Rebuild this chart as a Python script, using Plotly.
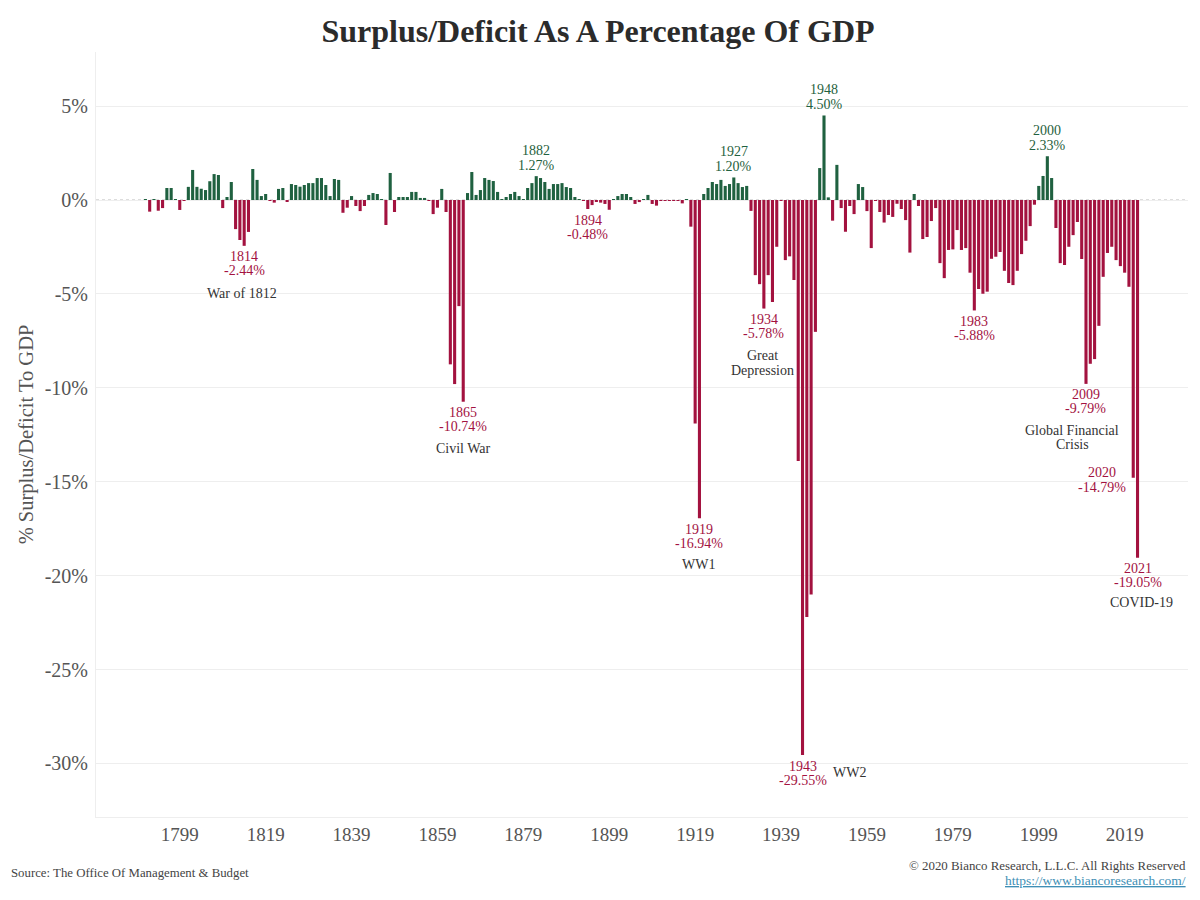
import plotly.graph_objects as go

FIRST_AXIS_YEAR = 1791
surplus_pct = [
 0.05,-0.62,0.05,-0.57,-0.43,0.64,0.64,0.04,-0.53,-0.02,0.70,1.60,0.70,0.60,0.53,1.00,1.38,1.33,-0.43,0.16,
 0.96,-1.55,-2.13,-2.44,-1.70,1.65,1.07,0.21,0.32,-0.05,-0.14,0.59,0.64,-0.09,0.85,0.80,0.71,0.80,0.90,0.90,
 1.17,1.17,0.80,0.21,1.12,1.07,-0.68,-0.41,0.21,-0.32,-0.59,-0.32,0.27,0.37,0.32,0.04,-1.33,1.44,-0.64,0.16,
 0.16,0.16,0.43,0.43,0.11,0.11,-0.04,-0.75,-0.41,0.59,-0.64,-8.75,-9.80,-5.65,-10.74,0.37,1.49,0.27,0.53,1.17,
 1.07,1.01,0.43,0.04,0.16,0.32,0.43,0.21,0.05,0.64,0.90,1.27,1.17,0.96,0.59,0.85,0.85,0.90,0.69,0.64,
 0.16,0.05,-0.04,-0.48,-0.27,-0.09,-0.14,-0.21,-0.52,0.02,0.21,0.32,0.32,0.16,-0.21,-0.11,0.05,0.27,-0.21,-0.30,
 -0.03,-0.03,-0.03,-0.03,-0.03,-0.18,0.05,-1.42,-11.90,-16.94,0.32,0.64,0.96,0.85,1.07,0.75,0.85,1.20,0.90,0.69,
 0.75,-0.58,-4.00,-4.48,-5.78,-4.00,-5.43,-2.49,-0.05,-3.20,-3.00,-4.26,-13.90,-29.55,-22.20,-21.00,-7.02,1.70,4.50,0.14,
 -1.10,1.87,-0.43,-1.69,-0.32,-0.75,0.85,0.69,-0.59,-2.56,-0.03,-0.64,-1.20,-0.80,-0.90,-0.20,-0.48,-1.07,-2.80,0.32,
 -0.32,-2.08,-1.97,-1.12,-0.43,-3.36,-4.16,-2.66,-2.63,-1.60,-2.66,-2.56,-3.87,-5.88,-4.74,-4.99,-4.88,-3.13,-3.02,-2.77,
 -3.77,-4.42,-4.53,-3.77,-2.88,-2.17,-1.39,-0.25,0.75,1.28,2.33,1.17,-1.49,-3.36,-3.46,-2.49,-1.87,-1.17,-3.14,-9.79,
 -8.72,-8.47,-6.70,-4.09,-2.82,-2.49,-3.20,-3.52,-3.87,-4.62,-14.79,-19.05,
]
axis_years = [FIRST_AXIS_YEAR + i for i in range(len(surplus_pct))]
tick_years = list(range(1799, 2020, 20))
y_ticks = [5, 0, -5, -10, -15, -20, -25, -30]
# (printed year, index of bar)
called_out = [("1814", 23), ("1865", 74), ("1882", 91), ("1894", 103), ("1919", 129), ("1927", 137),
              ("1934", 144), ("1943", 153), ("1948", 158), ("1983", 193), ("2000", 210), ("2009", 219),
              ("2020", 230), ("2021", 231)]
event_lines = ["War of 1812", "Civil War", "Great", "Depression", "WW1", "WW2", "Global Financial", "Crisis", "COVID-19"]
event_xy = [(242, 293), (463, 449), (762, 355), (762, 370), (698, 564), (849, 772), (1072, 430), (1072, 445), (1141, 602)]

GREEN = "#1f6140"
RED = "#a3123f"
SERIF = "Georgia, 'Liberation Serif', serif"
W, H = 1200, 900
L, R, T, B = 96, 1188, 52, 817

def px(x): return (x - L) / (R - L)
def py(y): return (B - y) / (B - T)

fig = go.Figure(go.Bar(
    x=axis_years, y=surplus_pct,
    marker=dict(color=[GREEN if v >= 0 else RED for v in surplus_pct], line_width=0),
    width=0.72, showlegend=False,
))

annotations = []
for label, i in called_out:
    v = surplus_pct[i]
    colour = GREEN if v >= 0 else RED
    xshift = -31 if label == "2020" else 0
    if v >= 0:
        offs = (26, 11)
    elif label == "2020":
        offs = (5, -10)
    else:
        offs = (-11, -25)
    for txt, off in zip((label, f"{v:.2f}%"), offs):
        annotations.append(dict(
            x=axis_years[i], y=v, xref="x", yref="y", text=txt, showarrow=False,
            xanchor="center", yanchor="middle", xshift=xshift, yshift=off,
            font=dict(family=SERIF, size=14, color=colour),
        ))
for text, (ex, ey) in zip(event_lines, event_xy):
    annotations.append(dict(
        x=px(ex), y=py(ey), xref="paper", yref="paper", text=text, showarrow=False,
        xanchor="center", yanchor="middle",
        font=dict(family=SERIF, size=14, color="#333333"),
    ))
annotations += [
    dict(x=px(9), y=py(873), xref="paper", yref="paper", text="Source: The Office Of Management &amp; Budget",
         showarrow=False, xanchor="left", yanchor="middle", font=dict(family=SERIF, size=12.8, color="#444444")),
    dict(x=px(1188), y=py(866), xref="paper", yref="paper", text="© 2020 Bianco Research, L.L.C. All Rights Reserved",
         showarrow=False, xanchor="right", yanchor="middle", font=dict(family=SERIF, size=12.9, color="#444444")),
    dict(x=px(1188), y=py(880), xref="paper", yref="paper", text="<u>https://www.biancoresearch.com/</u>",
         showarrow=False, xanchor="right", yanchor="middle", font=dict(family=SERIF, size=13.5, color="#3f8fb5")),
]

fig.update_layout(
    width=W, height=H, autosize=False,
    margin=dict(l=L, r=W - R, t=T, b=H - B, pad=0),
    paper_bgcolor="white", plot_bgcolor="white",
    title=dict(text="<b>Surplus/Deficit As A Percentage Of GDP</b>", x=598 / W, xanchor="center",
               y=1 - 31 / H, yanchor="middle", font=dict(family=SERIF, size=32, color="#2b2b2b")),
    xaxis=dict(range=[FIRST_AXIS_YEAR - 11.5, FIRST_AXIS_YEAR + 242.75], tickmode="array", tickvals=tick_years,
               ticktext=[str(t) for t in tick_years], showgrid=False, zeroline=False, showline=True,
               linecolor="#eeeeee", linewidth=1, ticks="", tickfont=dict(family=SERIF, size=19, color="#555555")),
    yaxis=dict(range=[-32.85, 7.88], tickmode="array", tickvals=y_ticks, ticktext=[f"{t}%" for t in y_ticks],
               showgrid=True, gridcolor="#eeeeee", gridwidth=1, zeroline=False, showline=True,
               linecolor="#eeeeee", linewidth=1, ticks="outside", ticklen=3, tickcolor="rgba(0,0,0,0)",
               tickfont=dict(family=SERIF, size=20, color="#555555"),
               title=dict(text="% Surplus/Deficit To GDP", standoff=5, font=dict(family=SERIF, size=20.5, color="#555555"))),
    bargap=0.28,
    annotations=annotations,
    shapes=[dict(type="line", xref="paper", x0=0, x1=1, yref="y", y0=0, y1=0, layer="below",
                 line=dict(color="#bbbbbb", width=1, dash="dot"))],
)
fig.write_html("out.html", config={"displayModeBar": False},
               post_script="document.body.style.margin='0';document.documentElement.style.overflow='hidden';")
